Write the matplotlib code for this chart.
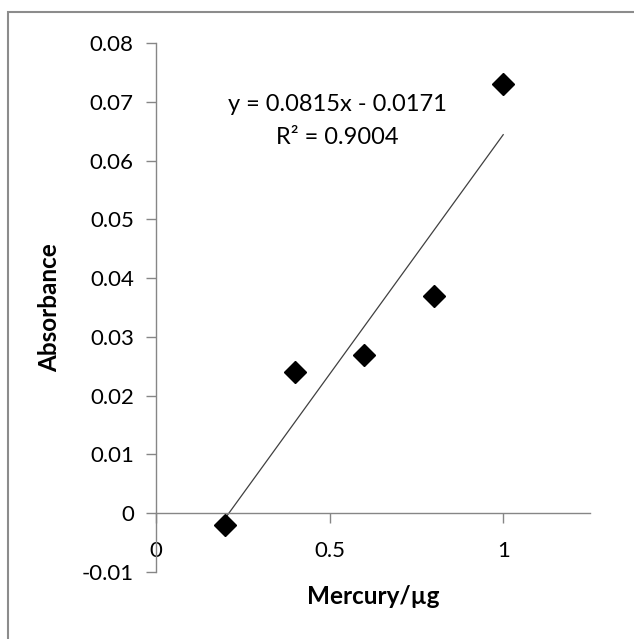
import numpy as np
import matplotlib.pyplot as plt
from matplotlib.patches import Rectangle

# Data
mercury = [0.2, 0.4, 0.6, 0.8, 1.0]
absorbance = [-0.002, 0.024, 0.027, 0.037, 0.073]
slope = 0.0815
intercept = -0.0171
r2 = 0.9004

plt.rcParams['font.family'] = ['Lato', 'DejaVu Sans']

W, H = 634, 639
fig = plt.figure(figsize=(W / 100, H / 100), dpi=100)

# Gray chart frame (only top/left edges visible in the reference)
fig.patches.append(Rectangle((8 / W, -0.1), 1.2, 1 - 12 / H + 0.1,
                             transform=fig.transFigure, fill=False,
                             edgecolor='#8c8c8c', linewidth=1.5))

# Axes placement in pixels: x 0 -> 156, 1.25 -> 590; y 0.08 -> 43, -0.01 -> 572
left, right, top, bottom = 156, 590, 43, 572
ax = fig.add_axes([left / W, 1 - bottom / H, (right - left) / W, (bottom - top) / H])

ax.set_xlim(0, 1.25)
ax.set_ylim(-0.01, 0.08)

# Excel style: x axis crossing at y=0
ax.spines['top'].set_visible(False)
ax.spines['right'].set_visible(False)
ax.spines['bottom'].set_position(('data', 0))
for s in ('left', 'bottom'):
    ax.spines[s].set_color('#868686')
    ax.spines[s].set_linewidth(1.0)

ax.set_xticks([0, 0.5, 1])
ax.set_xticklabels(['0', '0.5', '1'])
yticks = np.round(np.arange(-0.01, 0.081, 0.01), 2)
ax.set_yticks(yticks)
ax.set_yticklabels(['%.2f' % v if abs(v) > 1e-9 else '0' for v in yticks])
ax.tick_params(axis='both', colors='#868686', labelcolor='black',
               labelsize=16, length=7, width=1.0)
ax.tick_params(axis='x', pad=13)
ax.tick_params(axis='y', pad=9)

# Trendline
xs = np.array([min(mercury), max(mercury)])
ax.plot(xs, slope * xs + intercept, color='#404040', linewidth=0.9)

# Data points
ax.plot(mercury, absorbance, linestyle='none', marker='D', markersize=11,
        color='black')

ax.text(0.523, 0.0696, 'y = %.4fx - %.4f' % (slope, -intercept), ha='center',
        va='center', fontsize=17)
ax.text(0.523, 0.0640, 'R² = %.4f' % r2, ha='center', va='center',
        fontsize=17)

fig.text(50 / W, 1 - 308 / H, 'Absorbance', rotation=90, ha='center',
         va='center', fontsize=17.5, fontweight='bold')
fig.text(373 / W, 1 - 597 / H, 'Mercury/µg', ha='center', va='center',
         fontsize=17.5, fontweight='bold')

fig.savefig('out.png', dpi=100)
